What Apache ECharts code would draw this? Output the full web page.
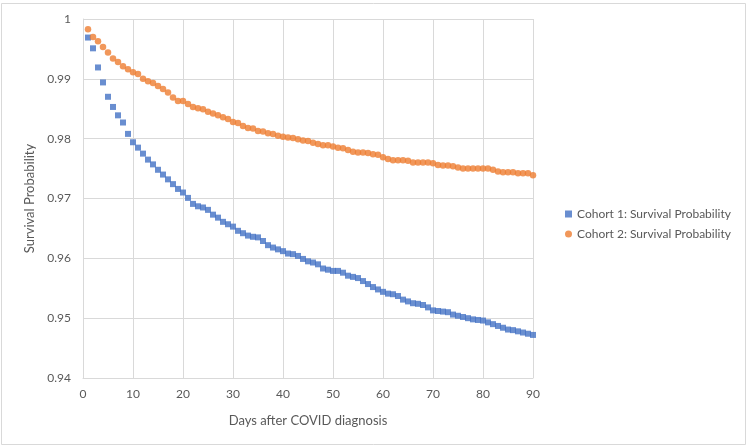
<!DOCTYPE html>
<html>
<head>
<meta charset="utf-8">
<script src="https://cdn.jsdelivr.net/npm/echarts@6/dist/echarts.min.js"></script>
<style>
html,body{margin:0;padding:0;background:#fff;}
#chart{width:750px;height:448px;}
</style>
</head>
<body>
<div id="chart"></div>
<script>
const days = Array.from({length: 90}, (_, i) => i + 1);
const cohort1 = [
0.9969,0.9951,0.9919,0.9894,0.9870,0.9853,0.9839,0.9827,0.9808,0.9794,
0.9785,0.9775,0.9765,0.9757,0.9748,0.9740,0.9732,0.9724,0.9716,0.9710,
0.9701,0.9691,0.9687,0.9685,0.9681,0.9673,0.9668,0.9661,0.9657,0.9653,
0.9646,0.9642,0.9638,0.9636,0.9635,0.9629,0.9622,0.9618,0.9615,0.9612,
0.9608,0.9607,0.9604,0.9599,0.9595,0.9593,0.9590,0.9583,0.9581,0.9579,
0.9579,0.9576,0.9571,0.9569,0.9567,0.9562,0.9557,0.9552,0.9548,0.9544,
0.9541,0.9540,0.9537,0.9531,0.9528,0.9525,0.9524,0.9522,0.9518,0.9513,
0.9512,0.9511,0.9510,0.9506,0.9504,0.9502,0.9500,0.9498,0.9497,0.9496,
0.9493,0.9490,0.9487,0.9484,0.9481,0.9480,0.9478,0.9476,0.9474,0.9472
];
const cohort2 = [
0.9983,0.9970,0.9963,0.9953,0.9944,0.9934,0.9928,0.9921,0.9916,0.9911,
0.9908,0.9900,0.9896,0.9893,0.9888,0.9883,0.9877,0.9869,0.9863,0.9863,
0.9858,0.9853,0.9851,0.9849,0.9845,0.9842,0.9839,0.9836,0.9833,0.9828,
0.9826,0.9821,0.9818,0.9817,0.9813,0.9812,0.9809,0.9808,0.9805,0.9803,
0.9802,0.9801,0.9799,0.9797,0.9796,0.9793,0.9791,0.9789,0.9789,0.9787,
0.9785,0.9784,0.9781,0.9778,0.9777,0.9777,0.9776,0.9774,0.9773,0.9769,
0.9766,0.9764,0.9764,0.9764,0.9763,0.9760,0.9760,0.9760,0.9760,0.9759,
0.9756,0.9755,0.9755,0.9754,0.9752,0.9750,0.9750,0.9750,0.9750,0.9750,
0.9750,0.9748,0.9745,0.9744,0.9744,0.9744,0.9742,0.9742,0.9742,0.9739
];
const seriesNames = ['Cohort 1: Survival Probability', 'Cohort 2: Survival Probability'];
const xTitle = 'Days after COVID diagnosis';
const yTitle = 'Survival Probability';

const font = 'Lato, "Open Sans", sans-serif';
const txt = '#595959';
const grid = '#d9d9d9';

const chart = echarts.init(document.getElementById('chart'));
chart.setOption({
  backgroundColor: '#fff',
  animation: false,
  textStyle: {fontFamily: font},
  graphic: [{
    type: 'rect', silent: true,
    shape: {x: 1.5, y: 3.5, width: 744, height: 441},
    style: {fill: 'none', stroke: grid, lineWidth: 1}
  }],
  grid: {left: 83, right: 217, top: 19, bottom: 70},
  legend: {
    orient: 'vertical', left: 560, top: 203, itemGap: 8,
    itemWidth: 7, itemHeight: 7,
    textStyle: {color: txt, fontSize: 12, fontFamily: font},
    data: [{name: seriesNames[0], icon: 'rect'}, {name: seriesNames[1], icon: 'circle'}]
  },
  xAxis: {
    type: 'value', min: 0, max: 90, interval: 10,
    name: xTitle, nameLocation: 'middle', nameGap: 36,
    nameTextStyle: {color: txt, fontSize: 13, fontFamily: font},
    axisLine: {show: true, lineStyle: {color: grid}},
    axisTick: {show: false},
    axisLabel: {color: txt, fontSize: 12, margin: 10, fontFamily: font},
    splitLine: {show: true, lineStyle: {color: grid}}
  },
  yAxis: {
    type: 'value', min: 0.94, max: 1, interval: 0.01,
    name: yTitle, nameLocation: 'middle', nameGap: 45,
    nameTextStyle: {color: txt, fontSize: 13, fontFamily: font},
    axisLine: {show: true, lineStyle: {color: grid}},
    axisTick: {show: false},
    axisLabel: {color: txt, fontSize: 12, margin: 12, fontFamily: font,
      formatter: v => String(Math.round(v * 100) / 100)},
    splitLine: {show: true, lineStyle: {color: grid}}
  },
  series: [
    {name: seriesNames[0], type: 'scatter', symbol: 'rect', symbolSize: 6,
     itemStyle: {color: '#4472C4'}, data: days.map((d, i) => [d, cohort1[i]])},
    {name: seriesNames[1], type: 'scatter', symbol: 'circle', symbolSize: 6.5,
     itemStyle: {color: '#ED7D31'}, data: days.map((d, i) => [d, cohort2[i]])}
  ]
});
</script>
</body>
</html>
